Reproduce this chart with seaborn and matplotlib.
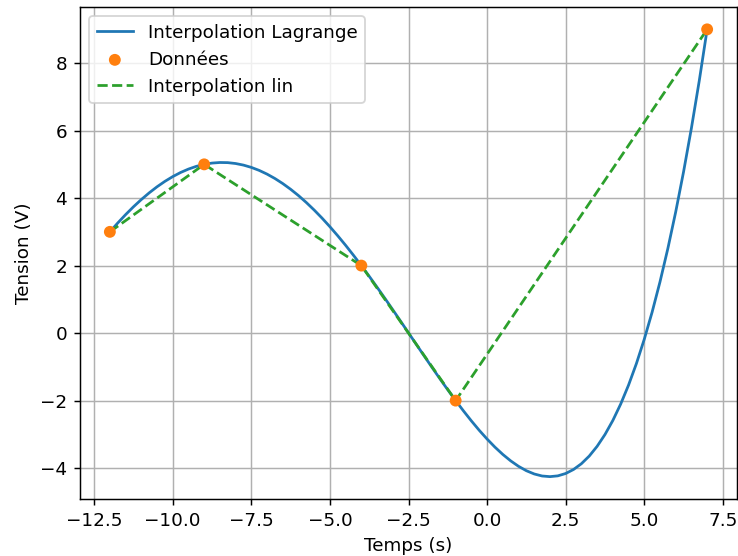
import matplotlib
matplotlib.use("Agg")
import matplotlib.pyplot as plt
import seaborn as sns

# Data points
x_data = [-12, -9, -4, -1, 7]
y_data = [3, 5, 2, -2, 9]

# Lagrange curve values sampled along the curve (step 0.25)
x_lag = [-12.0, -11.75, -11.5, -11.25, -11.0, -10.75, -10.5, -10.25,
         -10.0, -9.75, -9.5, -9.25, -9.0, -8.75, -8.5, -8.25,
         -8.0, -7.75, -7.5, -7.25, -7.0, -6.75, -6.5, -6.25,
         -6.0, -5.75, -5.5, -5.25, -5.0, -4.75, -4.5, -4.25,
         -4.0, -3.75, -3.5, -3.25, -3.0, -2.75, -2.5, -2.25,
         -2.0, -1.75, -1.5, -1.25, -1.0, -0.75, -0.5, -0.25,
         0.0, 0.25, 0.5, 0.75, 1.0, 1.25, 1.5, 1.75,
         2.0, 2.25, 2.5, 2.75, 3.0, 3.25, 3.5, 3.75,
         4.0, 4.25, 4.5, 4.75, 5.0, 5.25, 5.5, 5.75,
         6.0, 6.25, 6.5, 6.75, 7.0]
y_lag = [3.000, 3.262, 3.510, 3.742, 3.957, 4.155, 4.335, 4.496,
         4.637, 4.759, 4.860, 4.941, 5.000, 5.038, 5.055, 5.051,
         5.025, 4.978, 4.910, 4.821, 4.711, 4.581, 4.431, 4.262,
         4.075, 3.869, 3.646, 3.407, 3.152, 2.883, 2.601, 2.306,
         2.000, 1.684, 1.360, 1.029, 0.692, 0.351, 0.008, -0.336,
         -0.679, -1.019, -1.354, -1.681, -2.000, -2.307, -2.601, -2.880,
         -3.139, -3.379, -3.595, -3.785, -3.947, -4.078, -4.174, -4.234,
         -4.253, -4.230, -4.160, -4.041, -3.870, -3.643, -3.355, -3.005,
         -2.589, -2.102, -1.541, -0.903, -0.183, 0.622, 1.517, 2.505,
         3.591, 4.779, 6.074, 7.480, 9.000]

dpi = 132
fig = plt.figure(figsize=(738 / dpi, 556 / dpi), dpi=dpi)
ax = fig.add_axes([80 / 738, 1 - 499 / 556, 657 / 738, 492 / 556])

sns.lineplot(x=x_lag, y=y_lag, ax=ax, color="C0", linewidth=1.5,
             label="Interpolation Lagrange", sort=False)
sns.scatterplot(x=x_data, y=y_data, ax=ax, color="C1", s=42, edgecolor="none",
                label="Données", zorder=3)
sns.lineplot(x=x_data, y=y_data, ax=ax, color="C2", linestyle="--", linewidth=1.5,
             label="Interpolation lin", sort=False)

ax.set_xlabel("Temps (s)")
ax.set_ylabel("Tension (V)")
ax.grid(True)
ax.legend(loc="upper left")

fig.savefig("out.png", dpi=dpi)
